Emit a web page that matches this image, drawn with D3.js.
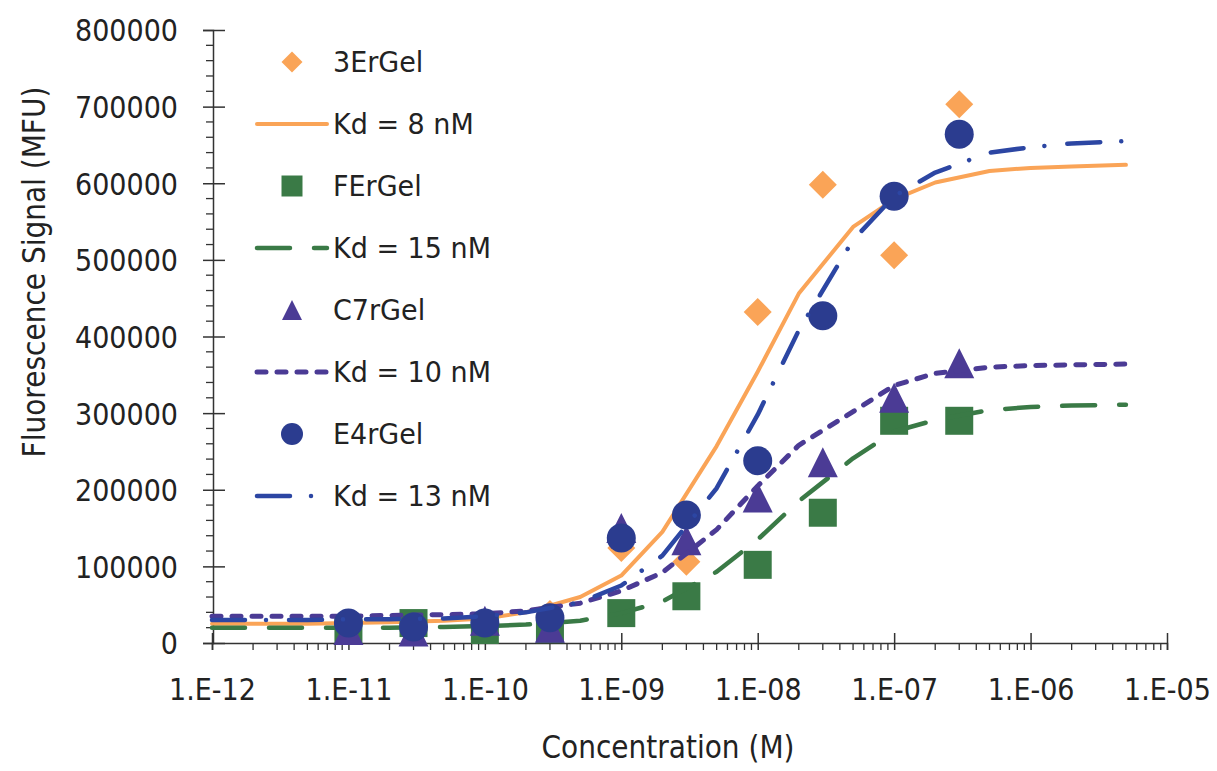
<!DOCTYPE html>
<html><head><meta charset="utf-8">
<script src="https://cdn.jsdelivr.net/npm/d3@7"></script>
<style>body{margin:0;background:#fff}</style>
</head><body>
<svg id="chart" width="1217" height="771"></svg>
<script>
// ---------- data ----------
const concentrations = [1e-11, 3e-11, 1e-10, 3e-10, 1e-9, 3e-9, 1e-8, 3e-8, 1e-7, 3e-7];
const s3ErGel = [25000, 22000, 25000, 38000, 124000, 106000, 432000, 598000, 506000, 703000];
const sFErGel = [18000, 26000, 17000, 18000, 39000, 61000, 102000, 170000, 290000, 290000];
const sC7rGel = [17000, 15000, 29000, 20000, 150000, 134000, 190000, 236000, 320000, 365000];
const sE4rGel = [26000, 21000, 26000, 33000, 137000, 167000, 238000, 427000, 583000, 664000];

const fitConc = [1e-12, 2e-12, 5e-12, 1e-11, 2e-11, 5e-11, 1e-10, 2e-10, 5e-10, 1e-9, 2e-9, 5e-9,
                 1e-8, 2e-8, 5e-8, 1e-7, 2e-7, 5e-7, 1e-6, 2e-6, 5e-6];
const fitKd8 = [25000, 25000, 25000, 26000, 27000, 29000, 32000, 40000, 60000, 88000, 145000, 257000,
                354000, 456000, 543000, 579000, 601000, 616000, 620000, 622000, 624000];
const fitKd15 = [20000, 20000, 20000, 20000, 20000, 21000, 22000, 24000, 29000, 39000, 54000, 93000,
                 135000, 185000, 241000, 276000, 291000, 304000, 308000, 310000, 311000];
const fitKd10 = [35000, 35000, 35000, 35000, 36000, 37000, 38000, 42000, 52000, 68000, 92000, 148000,
                 205000, 258000, 302000, 336000, 352000, 360000, 362000, 363000, 364000];
const fitKd13 = [30000, 30000, 30000, 31000, 31000, 32000, 35000, 40000, 53000, 75000, 114000, 202000,
                 298000, 408000, 526000, 583000, 614000, 640000, 647000, 652000, 655000];

const xTickValues = [1e-12, 1e-11, 1e-10, 1e-9, 1e-8, 1e-7, 1e-6, 1e-5];
const xTickLabels = ["1.E-12", "1.E-11", "1.E-10", "1.E-09", "1.E-08", "1.E-07", "1.E-06", "1.E-05"];
const yTickValues = [0, 100000, 200000, 300000, 400000, 500000, 600000, 700000, 800000];
const legendLabels = ["3ErGel", "Kd = 8 nM", "FErGel", "Kd = 15 nM", "C7rGel", "Kd = 10 nM", "E4rGel", "Kd = 13 nM"];

// ---------- styles ----------
const C = {orange: "#FAA457", green: "#3A7A46", purple: "#4B3B95", blueDot: "#2B3C8F", blueLine: "#2C46A3"};
const FONT = "'DejaVu Sans', Verdana, sans-serif";
const SY = 1.12; // vertical stretch of the reference lettering

const svg = d3.select("#chart");
const x = d3.scaleLog().domain([1e-12, 1e-5]).range([212, 1167]);
const y = d3.scaleLinear().domain([0, 800000]).range([643, 30]);

function markerPath(kind, s) {
  const h = s / 2;
  if (kind === "diamond") return `M0,${-h}L${h},0L0,${h}L${-h},0Z`;
  if (kind === "square") return `M${-h},${-h}H${h}V${h}H${-h}Z`;
  if (kind === "triangle") return `M0,${-h}L${h},${h}L${-h},${h}Z`;
  if (kind === "circle") return `M${-h},0A${h},${h} 0 1,0 ${h},0A${h},${h} 0 1,0 ${-h},0Z`;
}

// ---------- axes ----------
const axisColor = "#333";
const axisG = svg.append("g");
const yAxis = d3.axisLeft(y).tickValues(yTickValues).tickSize(10).tickFormat(d => d);
const yA = axisG.append("g").attr("transform", "translate(213,0)").call(yAxis);
yA.select(".domain").attr("stroke", axisColor).attr("stroke-width", 1.5);
yA.selectAll(".tick line").attr("stroke", axisColor).attr("stroke-width", 1.5).attr("x1", 12).attr("x2", -10);
yA.selectAll(".tick text").attr("font-family", FONT).attr("font-size", 27).attr("fill", "#222")
  .attr("x", -35).attr("dy", "0.36em").attr("transform", `scale(1,${SY})`);
const yMinor = d3.range(0, 800001, 20000).filter(v => v % 100000 !== 0);
axisG.append("g").selectAll("line").data(yMinor).join("line")
  .attr("x1", 206).attr("x2", 213).attr("y1", d => y(d)).attr("y2", d => y(d))
  .attr("stroke", axisColor).attr("stroke-width", 1.3);

const xAxis = d3.axisBottom(x).tickValues(xTickValues).tickSize(7).tickFormat((d, i) => xTickLabels[i]);
const xA = axisG.append("g").attr("transform", "translate(0,643)").call(xAxis);
xA.select(".domain").attr("stroke", axisColor).attr("stroke-width", 1.5);
xA.selectAll(".tick line").attr("stroke", axisColor).attr("stroke-width", 1.5).attr("y1", -10).attr("y2", 7);
xA.selectAll(".tick text").attr("font-family", FONT).attr("font-size", 27).attr("fill", "#222")
  .attr("y", 57 / SY).attr("dy", 0).attr("transform", `scale(1,${SY})`);
const xMinor = [];
for (let e = -12; e < -5; e++) for (let m = 2; m <= 9; m++) xMinor.push(m * Math.pow(10, e));
axisG.append("g").selectAll("line").data(xMinor).join("line")
  .attr("x1", d => x(d)).attr("x2", d => x(d)).attr("y1", 643).attr("y2", 650)
  .attr("stroke", axisColor).attr("stroke-width", 1.3);

// axis titles
svg.append("text").attr("transform", `translate(668,758) scale(1,${SY})`).attr("text-anchor", "middle")
  .attr("font-family", FONT).attr("font-size", 28).attr("fill", "#222").text("Concentration (M)");
svg.append("text").attr("transform", `translate(45,272) rotate(-90) scale(1,${SY})`).attr("text-anchor", "middle")
  .attr("font-family", FONT).attr("font-size", 28).attr("fill", "#222").text("Fluorescence Signal (MFU)");

// ---------- series ----------
const line = d3.line().x(d => x(d[0])).y(d => y(d[1]));
const series = [
  {type: "pts", vals: s3ErGel, kind: "diamond", color: C.orange, size: 28},
  {type: "line", vals: fitKd8, color: C.orange, dash: null, w: 4},
  {type: "pts", vals: sFErGel, kind: "square", color: C.green, size: 28},
  {type: "line", vals: fitKd15, color: C.green, dash: "33,24", w: 4.5},
  {type: "pts", vals: sC7rGel, kind: "triangle", color: C.purple, size: 30},
  {type: "line", vals: fitKd10, color: C.purple, dash: "9,11", w: 5},
  {type: "pts", vals: sE4rGel, kind: "circle", color: C.blueDot, size: 29},
  {type: "line", vals: fitKd13, color: C.blueLine, dash: "33,21,0.01,23", w: 4.5},
];
const plot = svg.append("g");
series.forEach(s => {
  if (s.type === "pts") {
    plot.append("g").selectAll("path").data(concentrations.map((c, i) => [c, s.vals[i]])).join("path")
      .attr("transform", d => `translate(${x(d[0])},${y(d[1])})`)
      .attr("d", markerPath(s.kind, s.size)).attr("fill", s.color);
  } else {
    plot.append("path").datum(fitConc.map((c, i) => [c, s.vals[i]]))
      .attr("d", line).attr("fill", "none").attr("stroke", s.color).attr("stroke-width", s.w)
      .attr("stroke-linecap", "round").attr("stroke-linejoin", "round")
      .attr("stroke-dasharray", s.dash);
  }
});

// ---------- legend ----------
const legend = svg.append("g");
const rowY = i => 62 + i * 62;
series.forEach((s, i) => {
  const yy = rowY(i);
  if (s.type === "pts") {
    const ls = s.kind === "circle" ? 22 : (s.kind === "triangle" ? 20 : 21);
    legend.append("path").attr("transform", `translate(292,${yy})`)
      .attr("d", markerPath(s.kind, ls)).attr("fill", s.color);
  } else {
    legend.append("line").attr("x1", 257).attr("x2", 327).attr("y1", yy).attr("y2", yy)
      .attr("stroke", s.color).attr("stroke-width", s.w).attr("stroke-linecap", "round")
      .attr("stroke-dasharray", s.dash);
  }
  legend.append("text").attr("transform", `translate(333,${yy}) scale(1,1.05)`).attr("dy", "0.36em")
    .attr("font-family", FONT).attr("font-size", 27).attr("fill", "#222").text(legendLabels[i]);
});
</script>
</body></html>
